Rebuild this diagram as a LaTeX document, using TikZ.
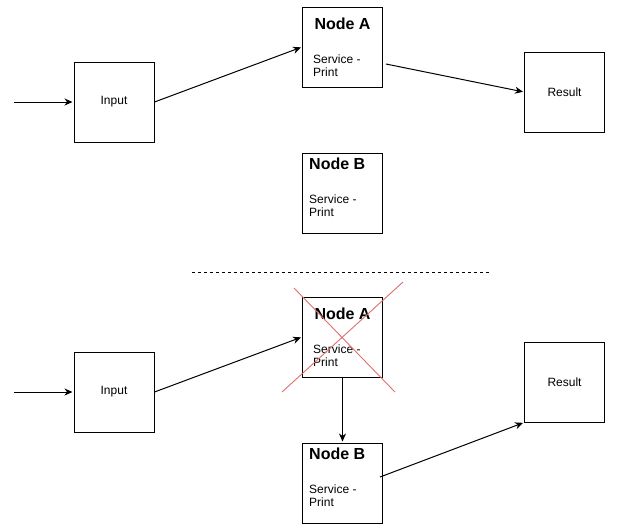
\documentclass[tikz,border=0pt]{standalone}
\usepackage{fontspec}
\setmainfont{Liberation Sans}
\usetikzlibrary{positioning,arrows.meta,calc}
\definecolor{crossred}{RGB}{222,112,112}
\tikzset{
  box/.style={draw,line width=1pt,minimum size=80pt,inner sep=0pt,font=\fontsize{12}{14}\selectfont},
  boxtitle/.style={inner sep=0pt,font=\bfseries\fontsize{16}{18}\selectfont},
  boxtext/.style={inner sep=0pt,align=left,font=\fontsize{12}{13}\selectfont},
  every edge/.style={draw,line width=1pt,-{Stealth[length=8pt,width=7pt,inset=2.5pt]},shorten >=1pt},
}

\begin{document}
\begin{tikzpicture}[x=1pt,y=-1pt]
\useasboundingbox (0,0) rectangle (623,528);

% before
\node[box] (in1) at (114,102) {Input};
\node[box] (a1) at (342.5,47) {};
\node[box] (r1) at (564.5,92) {Result};
\node[box,below=65pt of a1] (b1) {};
\node[boxtitle,anchor=base] (a1t) at ($(a1.north)+(0,23)$) {Node A};
\node[boxtext,anchor=base west] (a1s) at ($(a1.north west)+(11,70)$) {Service -\\Print};
\node[boxtitle,anchor=base west] (b1t) at ($(b1.north west)+(7,17)$) {Node B};
\node[boxtext,anchor=base west] (b1s) at ($(b1.north west)+(7,64)$) {Service -\\Print};
\coordinate (s1) at (14,102);
\coordinate (a1out) at (386,64);

\path
(s1) edge (in1.west)
(in1.east) edge (a1.west)
(a1out) edge (r1.west);

% separator
\coordinate (sepL) at (192,272);
\coordinate (sepR) at (490,272);
\draw[line width=1pt,dash pattern=on 3pt off 3pt] (sepL) -- (sepR);

% after
\node[box] (in2) at (114,392) {Input};
\node[box] (a2) at (342.5,337) {};
\node[box] (r2) at (564.5,382) {Result};
\node[box,below=65pt of a2] (b2) {};
\node[boxtitle,anchor=base] (a2t) at ($(a2.north)+(0,23)$) {Node A};
\node[boxtext,anchor=base west] (a2s) at ($(a2.north west)+(11,70)$) {Service -\\Print};
\node[boxtitle,anchor=base west] (b2t) at ($(b2.north west)+(7,17)$) {Node B};
\node[boxtext,anchor=base west] (b2s) at ($(b2.north west)+(7,64)$) {Service -\\Print};
\coordinate (s2) at (14,392);
\coordinate (b2out) at (380,477);

% node A is down
\draw[crossred,line width=0.9pt]
($(a2)+(-48.5,-49)$) -- ($(a2)+(52.5,55)$)
($(a2)+(60.5,-55)$) -- ($(a2)+(-60.5,55)$);

\path
(s2) edge (in2.west)
(in2.east) edge (a2.west)
(a2.south) edge (b2.north)
(b2out) edge (r2.south west);

\end{tikzpicture}
\end{document}
